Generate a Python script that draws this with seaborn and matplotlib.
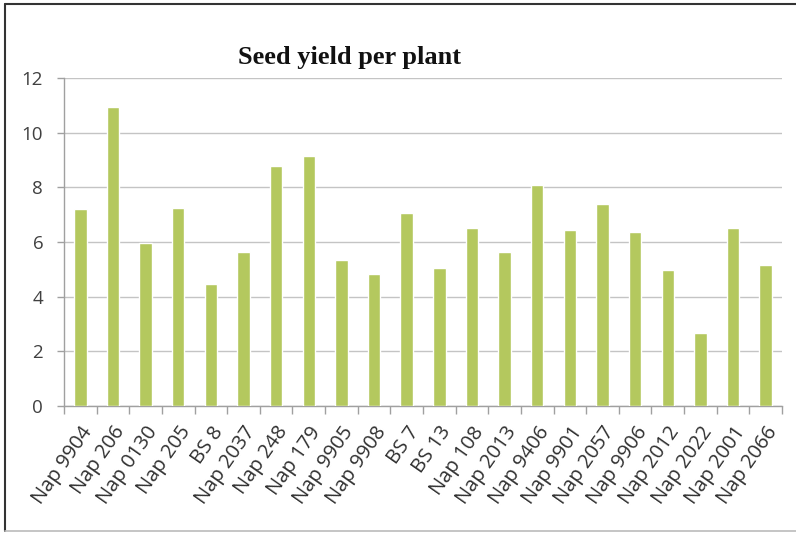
import matplotlib
matplotlib.use("Agg")
import matplotlib.pyplot as plt
import seaborn as sns
import pandas as pd
from matplotlib.patches import Rectangle
from matplotlib.lines import Line2D

categories = ["Nap 9904", "Nap 206", "Nap 0130", "Nap 205", "BS 8", "Nap 2037",
              "Nap 248", "Nap 179", "Nap 9905", "Nap 9908", "BS 7", "BS 13",
              "Nap 108", "Nap 2013", "Nap 9406", "Nap 9901", "Nap 2057", "Nap 9906",
              "Nap 2012", "Nap 2022", "Nap 2001", "Nap 2066"]
values = [7.2, 10.95, 5.98, 7.25, 4.45, 5.65, 8.79, 9.15, 5.33, 4.82, 7.07, 5.04,
          6.52, 5.62, 8.09, 6.44, 7.38, 6.36, 4.99, 2.68, 6.52, 5.16]
yticks = [0, 2, 4, 6, 8, 10, 12]
title = "Seed yield per plant"

df = pd.DataFrame({"variety": categories, "yield": values})

sns.set_theme(style="white")
plt.rcParams['font.family'] = ['Open Sans', 'DejaVu Sans']

fig = plt.figure(figsize=(7.96, 5.37), dpi=100)
ax = fig.add_axes([64/796, 1-406/537, (782-64)/796, (406-78)/537])

sns.barplot(data=df, x="variety", y="yield", color="#B4C85E", saturation=1,
            width=0.38, ax=ax, zorder=3)

ax.set_ylim(0, 12)
ax.set_xlim(-0.5, len(categories) - 0.5)
ax.set_yticks(yticks)
ax.set_yticklabels([str(t) for t in yticks], fontsize=13.5, color="#404040")
ax.yaxis.grid(True, color="#c4c4c4", lw=1, zorder=0)
ax.set_axisbelow(True)
ax.set_xlabel("")
ax.set_ylabel("")

# x tick labels rotated
ax.set_xticks(range(len(categories)))
ax.set_xticklabels(categories, rotation=55, ha="right", rotation_mode="anchor",
                   fontsize=14.5, color="#303030")
ax.tick_params(axis="x", length=0, pad=12)
# category boundary ticks
ax.set_xticks([i - 0.5 for i in range(len(categories) + 1)], minor=True)
ax.tick_params(axis="x", which="minor", length=6, color="#a0a0a0", width=1, bottom=True)
ax.tick_params(axis="y", length=5, color="#a0a0a0", width=1, left=True, pad=10)

for side in ["top", "right"]:
    ax.spines[side].set_visible(False)
for side in ["left", "bottom"]:
    ax.spines[side].set_color("#a0a0a0")
    ax.spines[side].set_linewidth(1)

fig.text(350/796, 1-57/537, title, ha="center", va="center", fontsize=19,
         fontweight="bold", family=["Liberation Serif", "DejaVu Serif"], color="#111111")

# outer frame: dark top/left, light bottom
x0, y0 = 5/796, 1 - 531/537
x1, y1 = 1.0, 1 - 4/537
fig.add_artist(Line2D([x0, x1], [y1, y1], transform=fig.transFigure, color="#333333", lw=1.5))
fig.add_artist(Line2D([x0, x0], [y0, y1], transform=fig.transFigure, color="#333333", lw=1.5))
fig.add_artist(Line2D([x0, x1], [y0, y0], transform=fig.transFigure, color="#bbbbbb", lw=1.2))

fig.savefig("out.png", dpi=100)
